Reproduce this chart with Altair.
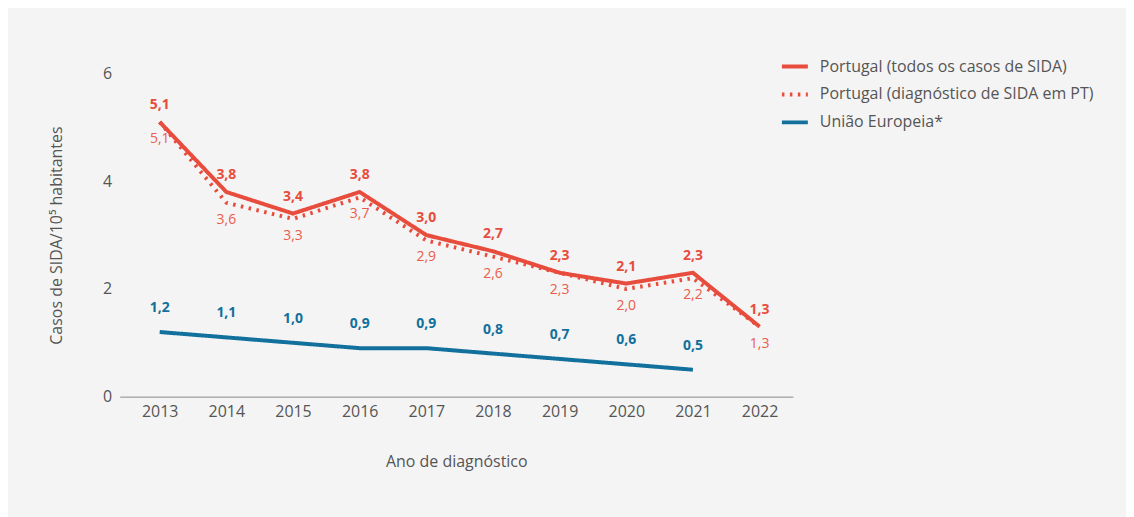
import altair as alt
import pandas as pd

years = [2013, 2014, 2015, 2016, 2017, 2018, 2019, 2020, 2021, 2022]
pt_todos = [5.1, 3.8, 3.4, 3.8, 3.0, 2.7, 2.3, 2.1, 2.3, 1.3]
pt_diag = [5.1, 3.6, 3.3, 3.7, 2.9, 2.6, 2.3, 2.0, 2.2, 1.3]
ue = [1.2, 1.1, 1.0, 0.9, 0.9, 0.8, 0.7, 0.6, 0.5, None]

s_todos = "Portugal (todos os casos de SIDA)"
s_diag = "Portugal (diagnóstico de SIDA em PT)"
s_ue = "União Europeia*"
series_order = [s_todos, s_diag, s_ue]

RED = "#e84c3d"
RED_L = "#ec5c4c"
BLUE = "#11709c"
FONT = "Open Sans"

rows = []
for name, vals in [(s_todos, pt_todos), (s_diag, pt_diag), (s_ue, ue)]:
    for y, v in zip(years, vals):
        if v is not None:
            rows.append({"ano": y, "valor": v, "serie": name})
df = pd.DataFrame(rows)

x = alt.X("ano:Q",
          scale=alt.Scale(domain=[2012.4, 2022.5], nice=False, zero=False),
          axis=alt.Axis(values=years, format="d", title="Ano de diagnóstico",
                        grid=False, ticks=False, domain=True, domainColor="#8a8a8a",
                        domainWidth=1, labelPadding=7, titlePadding=34,
                        labelFlush=False))
y = alt.Y("valor:Q",
          scale=alt.Scale(domain=[0, 6], nice=False),
          axis=alt.Axis(values=[0, 2, 4, 6], title="Casos de SIDA/10⁵ habitantes",
                        grid=False, ticks=False, domain=False, labelPadding=8,
                        titlePadding=38))

base = alt.Chart(df)

lines = base.mark_line(strokeWidth=4).encode(
    x=x, y=y,
    color=alt.Color("serie:N",
                    scale=alt.Scale(domain=series_order, range=[RED, RED, BLUE]),
                    sort=series_order,
                    legend=alt.Legend(title=None, orient="none", legendX=662, legendY=-22,
                                      symbolType="stroke", symbolSize=676,
                                      symbolStrokeWidth=4, labelOffset=10,
                                      rowPadding=5, padding=0, labelLimit=400,
                                      labelFontSize=16, labelColor="#555555",
                                      labelFont=FONT)),
    strokeDash=alt.StrokeDash("serie:N",
                              scale=alt.Scale(domain=series_order,
                                              range=[[1, 0], [2.5, 5.5], [1, 0]]),
                              sort=series_order, legend=None),
    order=alt.Order("ano:Q"),
    detail="serie:N",
)

def labels(series, color, weight, dy):
    return base.transform_filter(alt.datum.serie == series).transform_calculate(
        lab="replace(format(datum.valor, '.1f'), '.', ',')"
    ).mark_text(color=color, fontWeight=weight, fontSize=14, dy=dy, font=FONT).encode(
        x=x, y=y, text="lab:N"
    )

chart = alt.layer(
    lines,
    labels(s_todos, RED, "bold", -17),
    labels(s_diag, RED_L, "normal", 17),
    labels(s_ue, BLUE, "bold", -24),
).properties(
    width=675, height=324,
    autosize=alt.AutoSizeParams(type="none"),
    padding={"left": 112, "top": 65, "right": 334, "bottom": 120},
    background="#f4f4f4",
).configure_view(stroke=None).configure_axis(
    labelFont=FONT, titleFont=FONT, labelFontSize=16, titleFontSize=16,
    labelColor="#555555", titleColor="#555555", titleFontWeight="normal",
)

chart.save("out.html", embed_options={"renderer": "svg", "actions": False})
